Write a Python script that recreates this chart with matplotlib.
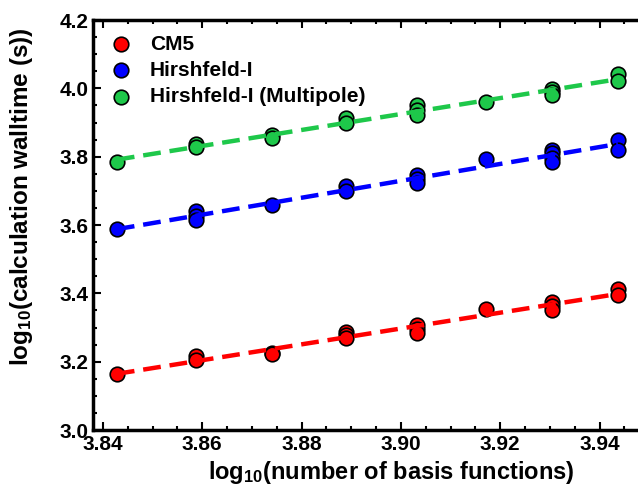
import numpy as np
import matplotlib
matplotlib.use('Agg')
import matplotlib.pyplot as plt
from matplotlib.ticker import MultipleLocator

plt.rcParams['font.family'] = 'Liberation Sans'
plt.rcParams['font.weight'] = 'bold'
plt.rcParams['mathtext.fontset'] = 'custom'
plt.rcParams['mathtext.rm'] = 'Liberation Sans:bold'
plt.rcParams['mathtext.it'] = 'Liberation Sans:bold'
plt.rcParams['mathtext.bf'] = 'Liberation Sans:bold'

# log10(number of basis functions) for each system
x_sys = [3.8428, 3.8588, 3.8741, 3.8890, 3.9033, 3.9171, 3.9305, 3.9437]

# log10(walltime) points, several runs per system
cm5 = [[3.163], [3.218, 3.205], [3.226, 3.222], [3.288, 3.278, 3.270],
       [3.307, 3.295, 3.285], [3.353], [3.376, 3.363, 3.350], [3.413, 3.396]]
hi = [[3.588], [3.640, 3.625, 3.614], [3.659], [3.713, 3.701],
      [3.747, 3.734, 3.724], [3.794], [3.821, 3.810, 3.795, 3.785], [3.849, 3.819]]
hi_mp = [[3.785], [3.837, 3.829], [3.863, 3.855], [3.912, 3.899],
         [3.950, 3.936, 3.921], [3.960], [3.999, 3.989, 3.982], [4.041, 4.023]]

series = [('CM5', cm5, '#ff0000'),
          ('Hirshfeld-I', hi, '#0000ff'),
          ('Hirshfeld-I (Multipole)', hi_mp, '#1ec84a')]

fig = plt.figure(figsize=(6.38, 4.90), dpi=100)
# right part of the frame is cut off by the figure edge, as in the original
ax = fig.add_axes([0.1458, 0.1224, 0.934, 0.8367])

xline = np.array([x_sys[0], x_sys[-1]])
for name, vals, col in series:
    xs = np.concatenate([[xv] * len(v) for xv, v in zip(x_sys, vals)])
    ys = np.concatenate(vals)
    ax.scatter(xs, ys, s=110, c=col, edgecolors='black', linewidths=1.2,
               zorder=3, label=name)
    k, b = np.polyfit(xs, ys, 1)
    ax.plot(xline, k * xline + b, '--', color=col, lw=3.2,
            dashes=(4, 2), zorder=4)

ax.set_xlim(3.838, 3.958)
ax.set_ylim(3.0, 4.2)
ax.xaxis.set_major_locator(MultipleLocator(0.02))
ax.xaxis.set_minor_locator(MultipleLocator(0.005))
ax.yaxis.set_major_locator(MultipleLocator(0.2))
ax.yaxis.set_minor_locator(MultipleLocator(0.05))
ax.xaxis.set_major_formatter(matplotlib.ticker.FormatStrFormatter('%.2f'))
ax.yaxis.set_major_formatter(matplotlib.ticker.FormatStrFormatter('%.1f'))
ax.tick_params(which='both', direction='in', top=True, right=True,
               labelsize=15, width=1.5)
ax.tick_params(which='major', length=6)
ax.tick_params(which='minor', length=3)
for sp in ax.spines.values():
    sp.set_linewidth(2.5)

ax.set_xlabel(r'log$_{10}$(number of basis functions)', fontsize=17,
              fontweight='bold', labelpad=4)
ax.set_ylabel(r'log$_{10}$(calculation walltime (s))', fontsize=17.5,
              fontweight='bold')
ax.yaxis.set_label_coords(-0.098, 0.57)

ax.legend(loc='upper left', frameon=False, fontsize=15, handletextpad=0.4,
          borderaxespad=0.3, labelspacing=0.35, scatterpoints=1,
          bbox_to_anchor=(-0.013, 1.0))

fig.savefig('out.png', dpi=100)
